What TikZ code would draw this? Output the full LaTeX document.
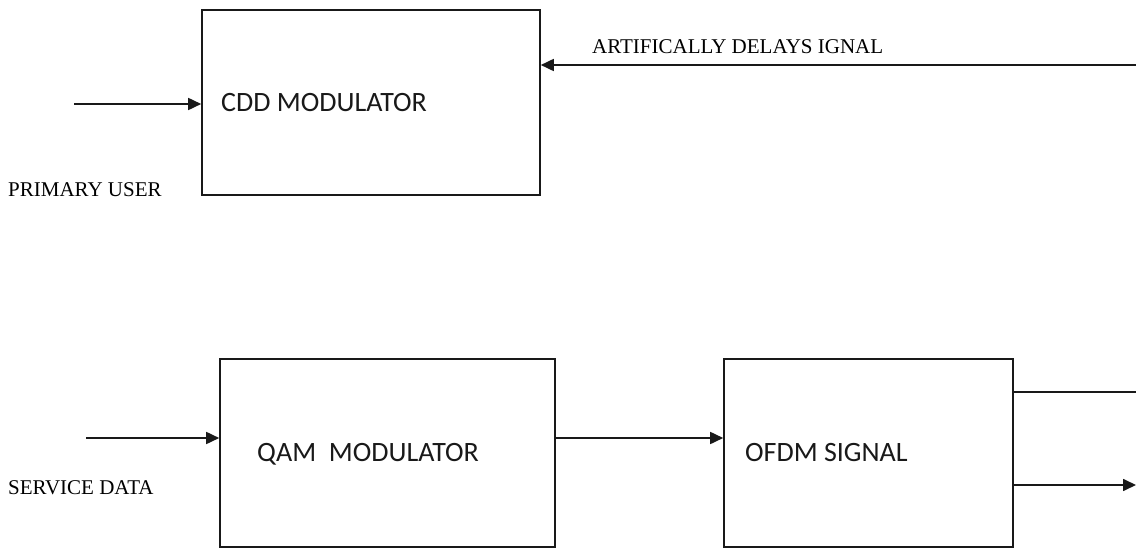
\documentclass[tikz,border=0pt]{standalone}
\usepackage{fontspec}
\setmainfont{Liberation Serif}
\newfontfamily\boxfont{Carlito}
\usetikzlibrary{arrows.meta}
\tikzset{
  blk/.style={draw=black!90, line width=1.6pt, inner sep=0pt},
  boxlbl/.style={font=\boxfont\fontsize{28}{32}\selectfont, inner sep=0pt, anchor=base west, text=black!90},
  sidelbl/.style={font=\fontsize{21}{24}\selectfont, inner sep=0pt, anchor=base west},
  conn/.style={line width=1.7pt, draw=black!90},
  arr/.style={conn, -{Triangle[length=13pt,width=12pt]}},
}
\begin{document}
\begin{tikzpicture}[x=1pt,y=-1pt]
\useasboundingbox (0,0) rectangle (1136,548);
% boxes
\node[blk, minimum width=338pt, minimum height=185pt] (cdd) at (371,102.5) {};
\node[blk, minimum width=335pt, minimum height=188pt] (qam) at (387.5,453) {};
\node[blk, minimum width=289pt, minimum height=188pt] (ofdm) at (868.5,453) {};
% box labels
\node[boxlbl] (cddl) at (221,112) {CDD MODULATOR};
\node[boxlbl] (qaml) at (257,461) {QAM\ \ MODULATOR};
\node[boxlbl] (ofdml) at (745,461) {OFDM SIGNAL};
% side labels
\node[sidelbl] (pu) at (8,197) {PRIMARY USER};
\node[sidelbl] (sd) at (8,494) {SERVICE DATA};
\node[sidelbl] (ads) at (592,54) {ARTIFICALLY DELAYS IGNAL};
% free ends
\coordinate (puin) at (74,104);
\coordinate (sdin) at (86,438);
\coordinate (fb) at (1136,65);
\coordinate (out1) at (1136,392);
\coordinate (out2) at (1136,485);
% connectors
\draw[arr] (puin) -- (cdd.west |- puin);
\draw[arr] (fb) -- (cdd.east |- fb);
\draw[arr] (sdin) -- (qam.west |- sdin);
\draw[arr] (qam.east |- sdin) -- (ofdm.west |- sdin);
\draw[conn] (ofdm.east |- out1) -- (out1);
\draw[arr] (ofdm.east |- out2) -- (out2);
\end{tikzpicture}
\end{document}
